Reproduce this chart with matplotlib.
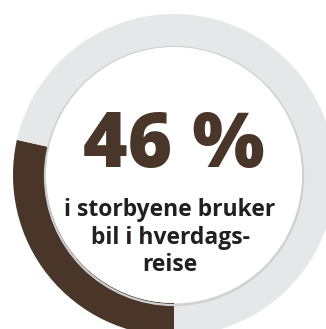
import matplotlib.pyplot as plt
from matplotlib.patches import Circle

# andel som bruker bil (tall i midten) og hvor mye av ringen som er fylt
headline = "46 %"
arc_share = 0.285
share_parts = [arc_share, 1 - arc_share]
subtitle_lines = ["i storbyene bruker", "bil i hverdags-", "reise"]

brown = "#4a3628"
ring_gray = "#e6e7e8"
text_dark = "#231f20"

fig = plt.figure(figsize=(3.26, 3.29), dpi=100)
ax = fig.add_axes([0, 0, 1, 1])

cx, cy, r = 174, 154, 161
ax.pie(share_parts, colors=[brown, ring_gray], startangle=270, counterclock=False,
       radius=r, center=(cx, cy), frame=True,
       wedgeprops=dict(width=33, linewidth=0))
ax.set_xlim(0, 326)
ax.set_ylim(0, 329)
ax.axis("off")

# svak skygge innerst i ringen
ax.add_patch(Circle((cx, cy - 1), r - 32, facecolor="none", edgecolor="#cfd0d2", linewidth=1.6))
ax.add_patch(Circle((cx, cy), r - 33, facecolor="white", edgecolor="none"))

ax.text(174, 329 - 167, headline, ha="center", va="baseline", fontsize=55,
        fontweight="heavy", family="Open Sans", color=brown)

baselines = [216, 244, 271]
for line, yb in zip(subtitle_lines, baselines):
    ax.text(170, 329 - yb, line, ha="center", va="baseline", fontsize=16.5,
            fontweight="bold", family="Open Sans", color=text_dark)

fig.savefig("out.png", dpi=100)
